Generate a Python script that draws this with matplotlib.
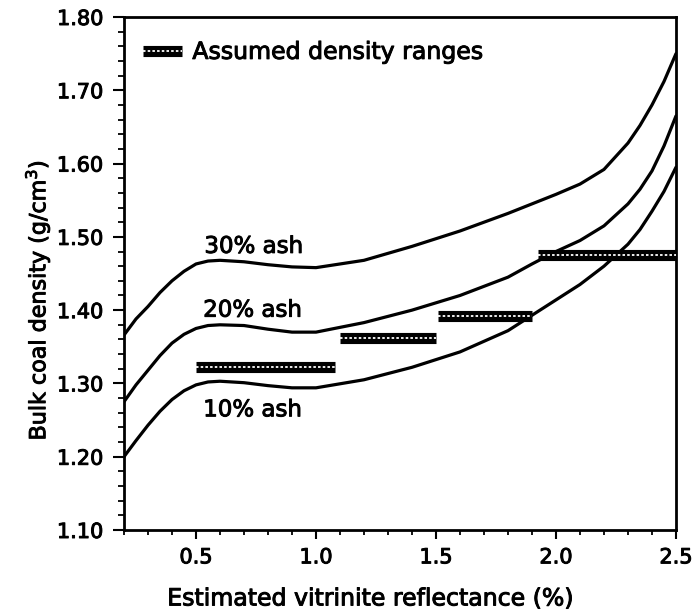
import matplotlib
matplotlib.use("Agg")
import matplotlib.pyplot as plt
import matplotlib.patheffects as pe
from matplotlib.lines import Line2D
from matplotlib.ticker import MultipleLocator

plt.rcParams['font.family'] = ['DejaVu Sans']

# ---- data ----
reflectance = [0.2, 0.25, 0.3, 0.35, 0.4, 0.45, 0.5, 0.55, 0.6, 0.7, 0.8, 0.9,
               1.0, 1.2, 1.4, 1.6, 1.8, 1.9, 2.0, 2.1, 2.2, 2.3, 2.35, 2.4,
               2.45, 2.5]
ash30 = [1.366, 1.388, 1.405, 1.424, 1.440, 1.453, 1.463, 1.467, 1.468, 1.466,
         1.462, 1.459, 1.458, 1.468, 1.487, 1.508, 1.532, 1.545, 1.558, 1.572,
         1.592, 1.628, 1.652, 1.680, 1.712, 1.750]
ash20 = [1.275, 1.298, 1.318, 1.338, 1.355, 1.367, 1.375, 1.379, 1.380, 1.379,
         1.374, 1.370, 1.370, 1.383, 1.400, 1.420, 1.445, 1.463, 1.480, 1.495,
         1.515, 1.545, 1.565, 1.590, 1.624, 1.665]
ash10 = [1.200, 1.222, 1.243, 1.262, 1.278, 1.290, 1.298, 1.302, 1.303, 1.301,
         1.297, 1.294, 1.294, 1.305, 1.322, 1.343, 1.372, 1.393, 1.414, 1.435,
         1.460, 1.490, 1.510, 1.535, 1.562, 1.595]
curve_labels = ["30% ash", "20% ash", "10% ash"]
label_x = [0.535, 0.53, 0.53]
label_y = [1.487, 1.400, 1.264]

range_start = [0.50, 1.10, 1.51, 1.925]
range_end = [1.08, 1.50, 1.90, 2.50]
range_density = [1.322, 1.362, 1.392, 1.475]

x_ticks = [0.5, 1.0, 1.5, 2.0, 2.5]
y_ticks = [1.10, 1.20, 1.30, 1.40, 1.50, 1.60, 1.70, 1.80]

# ---- figure ----
fig = plt.figure(figsize=(6.94, 6.11), dpi=100)
ax = fig.add_axes([124/694, 81/611, 552/694, 513/611])

bold = [pe.withStroke(linewidth=0.7, foreground='black')]

for ys in (ash30, ash20, ash10):
    ax.plot(reflectance, ys, color='black', lw=2.3, solid_joinstyle='round',
            solid_capstyle='round', zorder=3)

for t, x, y in zip(curve_labels, label_x, label_y):
    ax.text(x, y, t, fontsize=16.5, ha='left', va='center', zorder=5,
            path_effects=bold)

BAR_LW = 8
for s, e, d in zip(range_start, range_end, range_density):
    ax.plot([s, e], [d, d], color='black', lw=BAR_LW, solid_capstyle='butt', zorder=4)
    ax.plot([s, e], [d, d], color='white', lw=1.3, dashes=(1.4, 1.2), zorder=5)

h_black = Line2D([], [], color='black', lw=BAR_LW, solid_capstyle='butt')
h_white = Line2D([], [], color='white', lw=1.3, dashes=(1.4, 1.2))
leg = ax.legend(handles=[(h_black, h_white)], labels=["Assumed density ranges"],
                loc='center left', bbox_to_anchor=(0.034, 0.932), frameon=False,
                borderpad=0, borderaxespad=0, handlelength=1.65,
                handletextpad=0.45, fontsize=17)
for txt in leg.get_texts():
    txt.set_path_effects(bold)

ax.set_xlim(0.2, 2.5)
ax.set_ylim(1.10, 1.80)
ax.set_xticks(x_ticks)
ax.set_xticklabels([f"{v:.1f}" for v in x_ticks])
ax.set_yticks(y_ticks)
ax.set_yticklabels([f"{v:.2f}" for v in y_ticks])
ax.xaxis.set_minor_locator(MultipleLocator(0.1))
ax.yaxis.set_minor_locator(MultipleLocator(0.02))

ax.tick_params(axis='x', which='major', direction='out', length=6.5, width=1.5,
               labelsize=15, pad=6)
ax.tick_params(axis='x', which='minor', direction='out', length=3.6, width=1.3)
ax.tick_params(axis='y', which='major', direction='out', length=7.9, width=1.5,
               labelsize=15, pad=7)
ax.tick_params(axis='y', which='minor', direction='out', length=4.3, width=1.3)
for lab in ax.get_xticklabels() + ax.get_yticklabels():
    lab.set_path_effects(bold)

for sp in ax.spines.values():
    sp.set_linewidth(2.0)

ax.set_ylabel("Bulk coal density (g/cm$^3$)", fontsize=16, path_effects=bold)
ax.yaxis.set_label_coords(-0.13, 0.448)
ax.set_xlabel("Estimated vitrinite reflectance (%)", fontsize=17, path_effects=bold)
ax.xaxis.set_label_coords(0.447, -0.11)

fig.savefig("out.png", dpi=100)
